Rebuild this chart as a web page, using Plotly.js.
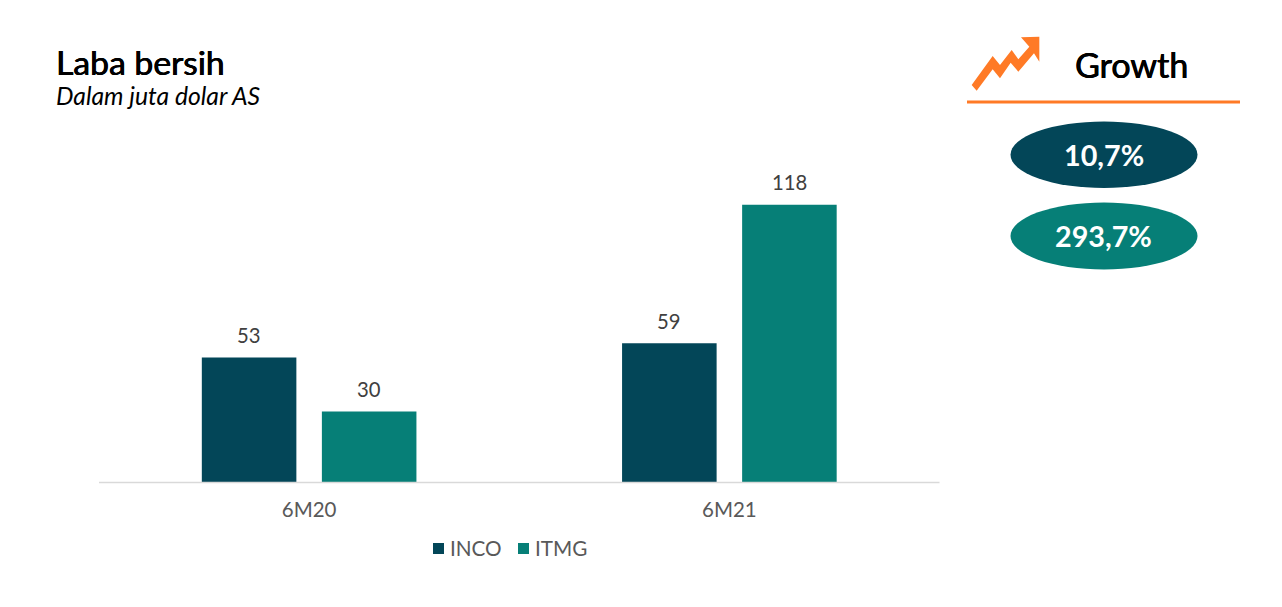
<!DOCTYPE html>
<html><head><meta charset="utf-8">
<script src="https://cdn.plot.ly/plotly-3.0.1.min.js"></script>
<style>html,body{margin:0;padding:0;background:#fff;overflow:hidden}</style>
</head><body><div id="chart" style="width:1282px;height:607px"></div>
<script>
const categories = ['6M20', '6M21'];
const incoValues = [53, 59];
const itmgValues = [30, 118];
const seriesNames = ['INCO', 'ITMG'];
const growthLabels = ['10,7%', '293,7%'];
const W = 1282, H = 607;
const DARK = '#034658', TEAL = '#067F77', ORANGE = '#FF7A26';
const MEDIUM = '0.5px 0 0 #000, -0.2px 0 0 #000';
const px = x => x / W, py = y => 1 - y / H;
const arrow = [[35,195],[98,108],[120,135],[155,90],[175,118],[208,80],[183,52],[238,50],[238,125],[222,100],[175,155],[152,128],[120,175],[98,148],[50,212]];
const arrowPath = 'M' + arrow.map(p => px(960 + p[0] / 3).toFixed(5) + ',' + py(20 + p[1] / 3).toFixed(5)).join('L') + 'Z';
const ellipse = (y0, y1, c) => ({type:'circle', xref:'paper', yref:'paper', x0:px(1010.5), x1:px(1197.5), y0:py(y1), y1:py(y0), fillcolor:c, line:{width:0}});
const square = (x, c) => ({type:'rect', xref:'paper', yref:'paper', x0:px(x), x1:px(x + 11), y0:py(554), y1:py(543), fillcolor:c, line:{width:0}});
const note = (text, x, y, size, color, anchor, weight, shadow) => ({text, xref:'paper', yref:'paper', x:px(x), y:py(y), showarrow:false, xanchor:anchor, yanchor:'middle', borderpad:0, font:{family:'Lato', size, color, weight:weight || 400, shadow:shadow || 'none'}});
const valueNote = (cat, v, xshift) => ({text:String(v), x:cat, y:v, xref:'x', yref:'y', xshift, yshift:22.5, showarrow:false, xanchor:'center', yanchor:'middle', font:{family:'Lato', size:20.3, color:'#404040'}});
const bar = (name, y, color) => ({type:'bar', name, x:categories, y, marker:{color}, hoverinfo:'x+y'});
const valueNotes = [];
categories.forEach((c, i) => { valueNotes.push(valueNote(c, incoValues[i], -60), valueNote(c, itmgValues[i], 60)); });
Plotly.newPlot('chart', [bar(seriesNames[0], incoValues, DARK), bar(seriesNames[1], itmgValues, TEAL)], {
  width:W, height:H, margin:{l:0, r:0, t:0, b:0}, paper_bgcolor:'#fff', plot_bgcolor:'#fff',
  barmode:'group', bargap:0.4286, bargroupgap:0.2125, showlegend:false,
  font:{family:'Lato'},
  xaxis:{domain:[px(99), px(939.5)], showgrid:false, zeroline:false, showline:false, ticks:'', tickfont:{family:'Lato', size:20.5, color:'#595959'}, ticklabelstandoff:13},
  yaxis:{domain:[py(482), py(176.5)], range:[0,130], visible:false, fixedrange:true},
  shapes:[
    {type:'line', xref:'paper', yref:'paper', x0:px(99), x1:px(939.5), y0:py(482.5), y1:py(482.5), line:{color:'#D9D9D9', width:1.5}},
    {type:'line', xref:'paper', yref:'paper', x0:px(967), x1:px(1240), y0:py(102), y1:py(102), line:{color:ORANGE, width:3}},
    {type:'path', xref:'paper', yref:'paper', path:arrowPath, fillcolor:ORANGE, line:{width:0}},
    ellipse(121.5, 188, DARK), ellipse(202.5, 269.5, TEAL),
    square(433, DARK), square(518, TEAL)
  ],
  annotations:valueNotes.concat([
    note('Laba bersih', 55, 61.5, 33.7, '#000', 'left', 400, MEDIUM),
    note('<i>Dalam juta dolar AS</i>', 55, 96, 24.7, '#000', 'left'),
    note('Growth', 1131.5, 64.5, 34, '#000', 'center', 400, MEDIUM),
    note(growthLabels[0], 1104, 155, 28.7, '#fff', 'center', 700),
    note(growthLabels[1], 1103.5, 236, 28.7, '#fff', 'center', 700),
    note(seriesNames[0], 448.5, 547.5, 20.7, '#595959', 'left'),
    note(seriesNames[1], 533.5, 547.5, 20.7, '#595959', 'left')
  ])
}, {displayModeBar:false, staticPlot:true});
</script></body></html>
